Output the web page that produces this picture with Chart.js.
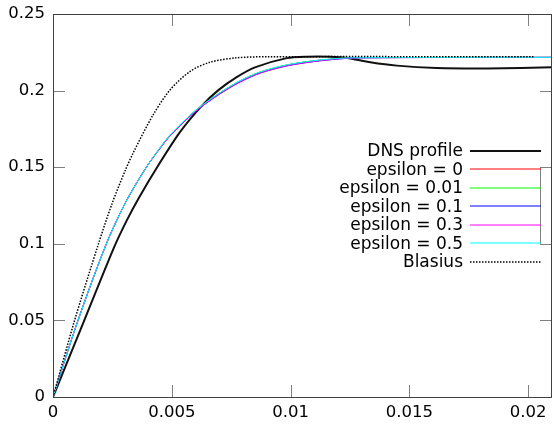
<!DOCTYPE html>
<html>
<head>
<meta charset="utf-8">
<script src="https://cdn.jsdelivr.net/npm/chart.js@4.4.1/dist/chart.umd.min.js"></script>
<style>
  html, body { margin: 0; padding: 0; background: #fff; overflow: hidden; }
  canvas { display: block; }
</style>
</head>
<body>
<canvas id="profileChart" width="554" height="425"></canvas>
<script>
// values
var xTicks = [0, 0.005, 0.01, 0.015, 0.02];
var yTicks = [0, 0.05, 0.1, 0.15, 0.2, 0.25];

var dnsX = [0, 0.0013, 0.00256, 0.0031, 0.0036, 0.00444, 0.00535, 0.00626, 0.00696, 0.00773, 0.0085, 0.00984, 0.01068, 0.01166, 0.01237, 0.01335, 0.01447, 0.01615, 0.01826, 0.0211];
var dnsY = [0, 0.0494, 0.0973, 0.1151, 0.1296, 0.1514, 0.1730, 0.1900, 0.2003, 0.2088, 0.2152, 0.2212, 0.2221, 0.2221, 0.2213, 0.2185, 0.2163, 0.2148, 0.2145, 0.2152];

var epsX = [0, 0.00103, 0.00224, 0.00307, 0.00395, 0.00448, 0.00493, 0.0057, 0.00626, 0.00705, 0.00787, 0.00872, 0.00984, 0.01096, 0.01208, 0.01293, 0.0211];
var eps0Y   = [0, 0.049, 0.0998, 0.1275, 0.1505, 0.1621, 0.1709, 0.1829, 0.1902, 0.1988, 0.2063, 0.2121, 0.2167, 0.2194, 0.2210, 0.2215, 0.2217];
var eps001Y = [0, 0.049, 0.0998, 0.1275, 0.1505, 0.1621, 0.1709, 0.1829, 0.1902, 0.1988, 0.2063, 0.2121, 0.2167, 0.2194, 0.2210, 0.2215, 0.2217];
var eps01Y  = [0, 0.049, 0.0998, 0.1275, 0.1505, 0.1618, 0.1705, 0.1823, 0.1896, 0.1981, 0.2056, 0.2114, 0.2161, 0.2189, 0.2207, 0.2214, 0.2217];
var eps03Y  = [0, 0.049, 0.0998, 0.1275, 0.1505, 0.1618, 0.1706, 0.1824, 0.1897, 0.1982, 0.2057, 0.2115, 0.2162, 0.2190, 0.2208, 0.2214, 0.2217];
var eps05Y  = [0, 0.049, 0.0998, 0.1275, 0.1505, 0.1621, 0.1710, 0.1830, 0.1903, 0.1989, 0.2064, 0.2122, 0.2168, 0.2195, 0.2211, 0.2215, 0.2217];

var blasiusX = [0, 0.00089, 0.00191, 0.00248, 0.00303, 0.00338, 0.0042, 0.00493, 0.00577, 0.0066, 0.00773, 0.009, 0.02025];
var blasiusY = [0, 0.049, 0.0998, 0.126, 0.1475, 0.1595, 0.1838, 0.2005, 0.2125, 0.2185, 0.2214, 0.2221, 0.2221];

var labels = ["DNS profile", "epsilon = 0", "epsilon = 0.01", "epsilon = 0.1", "epsilon = 0.3", "epsilon = 0.5", "Blasius"];
var colors = ['#111111', '#ff0000', '#00ff00', '#0000ff', '#ff00ff', '#00ffff', '#000000'];

function pts(xs, ys) {
    var out = [];
    for (var i = 0; i < xs.length; i++) {
        out.push({x: xs[i], y: ys[i]});
    }
    return out;
}

function series(i, data, width, tension, dash) {
    return {
        label: labels[i],
        data: data,
        borderColor: colors[i],
        borderWidth: width,
        borderDash: dash || [],
        pointRadius: 0,
        fill: false,
        tension: tension,
        order: 10 - i   // later series on top, like gnuplot
    };
}

const FONT = "DejaVu Sans";
const TICK_LEN = 12;
const keyWidths = [2, 1, 1, 1, 1, 1, 1.5];
const keyDash = [[], [], [], [], [], [], [1.5, 1.5]];

// gnuplot style frame: border, inward ticks on all sides, key at right
const framePlugin = {
    id: 'frame',
    afterDraw(chart) {
        const ctx = chart.ctx;
        const a = chart.chartArea;
        const xs = chart.scales.x, ys = chart.scales.y;
        ctx.save();
        ctx.setLineDash([]);
        ctx.strokeStyle = '#808080';
        ctx.lineWidth = 1;
        ctx.beginPath();
        xTicks.forEach(function(v) {
            const px = Math.round(xs.getPixelForValue(v)) + 0.5;
            ctx.moveTo(px, a.bottom); ctx.lineTo(px, a.bottom - TICK_LEN);
            ctx.moveTo(px, a.top); ctx.lineTo(px, a.top + TICK_LEN);
        });
        yTicks.forEach(function(v) {
            const py = Math.round(ys.getPixelForValue(v)) + 0.5;
            ctx.moveTo(a.left, py); ctx.lineTo(a.left + TICK_LEN, py);
            ctx.moveTo(a.right, py); ctx.lineTo(a.right - TICK_LEN, py);
        });
        // odd little bracket joining the right ticks at 0.15 and 0.1
        const bx = Math.round(a.right - TICK_LEN) + 0.5;
        ctx.moveTo(bx, Math.round(ys.getPixelForValue(0.15)) + 0.5);
        ctx.lineTo(bx, Math.round(ys.getPixelForValue(0.1)) + 0.5);
        ctx.stroke();

        ctx.strokeStyle = '#404040';
        ctx.strokeRect(Math.round(a.left) + 0.5, Math.round(a.top) + 0.5,
                       Math.round(a.right - a.left) - 1, Math.round(a.bottom - a.top));

        // key
        ctx.font = '17px "' + FONT + '"';
        ctx.textAlign = 'right';
        ctx.textBaseline = 'middle';
        for (var i = 0; i < labels.length; i++) {
            const y = 150.7 + i * 18.5;
            ctx.fillStyle = '#000';
            ctx.fillText(labels[i], 463, y + 1);
            ctx.strokeStyle = colors[i];
            ctx.lineWidth = keyWidths[i];
            ctx.setLineDash(keyDash[i]);
            ctx.beginPath();
            ctx.moveTo(470, Math.round(y));
            ctx.lineTo(541, Math.round(y));
            ctx.stroke();
        }
        ctx.restore();
    }
};

function fmt(v) {
    return String(parseFloat(v.toFixed(4)));
}

new Chart(document.getElementById('profileChart'), {
    type: 'line',
    data: {
        datasets: [
            series(0, pts(dnsX, dnsY), 2, 0.25),
            series(1, pts(epsX, eps0Y), 1, 0.3),
            series(2, pts(epsX, eps001Y), 1, 0.3),
            series(3, pts(epsX, eps01Y), 1, 0.3),
            series(4, pts(epsX, eps03Y), 1, 0.3),
            series(5, pts(epsX, eps05Y), 1, 0.3),
            series(6, pts(blasiusX, blasiusY), 1.5, 0.3, [1.5, 1.5])
        ]
    },
    options: {
        responsive: false,
        animation: false,
        devicePixelRatio: 1,
        layout: { padding: { top: 14, right: 2, left: 0, bottom: 0 } },
        plugins: { legend: { display: false }, tooltip: { enabled: false } },
        scales: {
            x: {
                type: 'linear',
                min: 0,
                max: 0.021,
                grid: { display: false, drawTicks: false },
                border: { display: false },
                afterFit: function(s) {
                    s.height = 28;
                    s.paddingLeft = 0; s.paddingRight = 0;
                },
                ticks: {
                    stepSize: 0.005,
                    includeBounds: false,
                    maxRotation: 0,
                    autoSkip: false,
                    padding: 6,
                    color: '#000',
                    font: { family: FONT, size: 16.5 },
                    callback: fmt
                }
            },
            y: {
                type: 'linear',
                min: 0,
                max: 0.25,
                grid: { display: false, drawTicks: false },
                border: { display: false },
                afterFit: function(s) {
                    s.width = 53;
                    s.paddingTop = 0; s.paddingBottom = 0;
                },
                ticks: {
                    stepSize: 0.05,
                    padding: 8,
                    color: '#000',
                    font: { family: FONT, size: 16.5 },
                    callback: fmt
                }
            }
        }
    },
    plugins: [framePlugin]
});
</script>
</body>
</html>
